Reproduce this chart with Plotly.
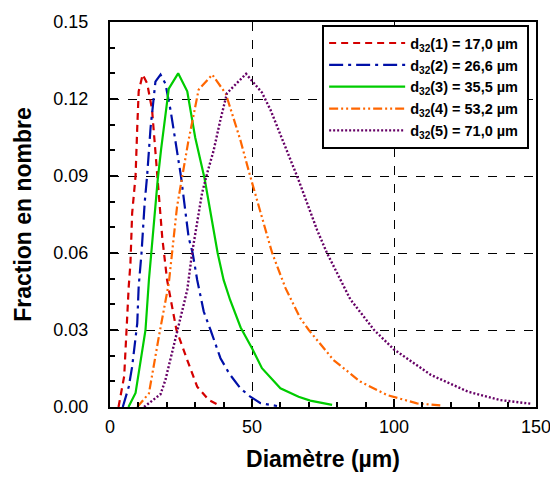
import plotly.graph_objects as go

labels = ["d<sub>32</sub>(1) = 17,0 µm", "d<sub>32</sub>(2) = 26,6 µm", "d<sub>32</sub>(3) = 35,5 µm",
          "d<sub>32</sub>(4) = 53,2 µm", "d<sub>32</sub>(5) = 71,0 µm"]

x1 = [3.0, 5.0, 6.6, 7.2, 7.8, 9.0, 9.6, 10.1, 11.5, 13.1, 14.8, 16.6, 18.4, 20.1, 23.4, 27.2, 30.7, 34.8, 39.0]
y1 = [0, 0.012, 0.047, 0.056, 0.0755, 0.090, 0.109, 0.123, 0.1295, 0.126, 0.116, 0.092, 0.066, 0.0495, 0.030,
      0.0183, 0.0079, 0.0027, 0.0003]

x2 = [4.5, 6.6, 7.8, 9.6, 10.1, 11.1, 12.2, 13.1, 14.3, 16.0, 17.8, 19.5, 21.3, 25.0, 27.7, 29.1, 30.7, 33.0,
      35.4, 38.9, 42.0, 45.9, 49.4, 53.0, 58.8]
y2 = [0, 0.0079, 0.0157, 0.0326, 0.047, 0.06, 0.0794, 0.0905, 0.109, 0.1268, 0.1295, 0.126, 0.1158, 0.0898,
      0.066, 0.060, 0.0495, 0.0372, 0.030, 0.019, 0.013, 0.0073, 0.004, 0.0015, 0.0004]

x3 = [6.5, 9.0, 12.5, 13.7, 16.8, 18.0, 20.7, 24.0, 27.2, 30.0, 33.3, 37.9, 40.0, 42.3, 46.0, 50.0, 53.5,
      60.0, 66.4, 70.5, 78.2]
y3 = [0, 0.0055, 0.030, 0.0495, 0.0885, 0.1005, 0.124, 0.130, 0.123, 0.105, 0.089, 0.060, 0.0495, 0.0417,
      0.031, 0.0229, 0.0151, 0.0073, 0.004, 0.0025, 0.0008]

x4 = [9.6, 13.7, 17.3, 20.7, 23.6, 25.4, 27.5, 31.2, 36.0, 40.8, 45.9, 49.4, 57.1, 61.8, 67.0, 70.0, 78.7,
      88.1, 97.5, 108.1, 116.3]
y4 = [0, 0.0053, 0.028, 0.0482, 0.078, 0.089, 0.103, 0.1236, 0.1295, 0.122, 0.104, 0.0898, 0.060, 0.0463,
      0.0346, 0.030, 0.0183, 0.0099, 0.0047, 0.0014, 0.0006]

x5 = [12.0, 17.8, 19.5, 23.6, 27.2, 28.9, 32.4, 34.2, 36.5, 38.9, 41.2, 47.9, 53.5, 56.5, 61.2, 66.2, 72.9,
      76.4, 84.6, 93.0, 99.9, 113.0, 126.0, 137.4, 148.0]
y5 = [0, 0.005, 0.0105, 0.029, 0.0456, 0.060, 0.0833, 0.091, 0.100, 0.112, 0.1223, 0.1298, 0.1225, 0.1158,
      0.1028, 0.089, 0.069, 0.060, 0.042, 0.030, 0.0225, 0.0125, 0.006, 0.0027, 0.0013]

xs = [x1, x2, x3, x4, x5]
ys = [y1, y2, y3, y4, y5]
colors = ["#D40000", "#0010A8", "#00CC00", "#FF6600", "#660066"]
dashes = ["7px,5px", "14px,5px,3px,5px", "solid", "9px,3px,2px,3px,2px,3px", "2px,2px"]
widths = [2.2, 2.2, 2.2, 2.2, 2.4]

fig = go.Figure()
for x, y, lab, c, d, w in zip(xs, ys, labels, colors, dashes, widths):
    fig.add_trace(go.Scatter(x=x, y=y, mode="lines", name="<b>" + lab + "</b>&nbsp;",
                             line=dict(color=c, dash=d, width=w)))

font = "Liberation Sans, Arial, sans-serif"
axis_common = dict(showline=True, linewidth=2, linecolor="black", mirror=True,
                   ticks="inside", ticklen=8, tickwidth=1.5, tickcolor="black",
                   showgrid=True, gridcolor="black", griddash="dash", gridwidth=1,
                   zeroline=False, automargin=False, ticklabeloverflow="allow",
                   tickfont=dict(family=font, size=18, color="black"))

fig.update_xaxes(range=[0, 150], tickvals=[0, 50, 100, 150], ticktext=["0", "50", "100", "150"],
                 minor=dict(ticks="inside", ticklen=5, dtick=10, tickcolor="black", showgrid=False),
                 ticklabelstandoff=2,
                 title=dict(text="<b>Diamètre (µm)</b>", font=dict(family=font, size=23, color="black")),
                 **axis_common)
fig.update_yaxes(range=[0, 0.15], dtick=0.03, tickformat=".2f",
                 minor=dict(ticks="inside", ticklen=5, dtick=0.01, tickcolor="black", showgrid=False),
                 ticklabelstandoff=16,
                 title=dict(text="<b>Fraction en nombre</b>", font=dict(family=font, size=23, color="black")),
                 **axis_common)

fig.update_layout(
    width=550, height=477,
    margin=dict(l=110, r=14, t=22, b=70),
    plot_bgcolor="white", paper_bgcolor="white",
    legend=dict(x=0.498, y=0.992, xanchor="left", yanchor="top",
                bgcolor="white", bordercolor="black", borderwidth=2,
                font=dict(family=font, size=14.5, color="black"),
                itemwidth=76, tracegroupgap=0),
    showlegend=True,
)

fig.write_html("out.html", config={"displayModeBar": False},
               post_script="document.body.style.margin='0';")
